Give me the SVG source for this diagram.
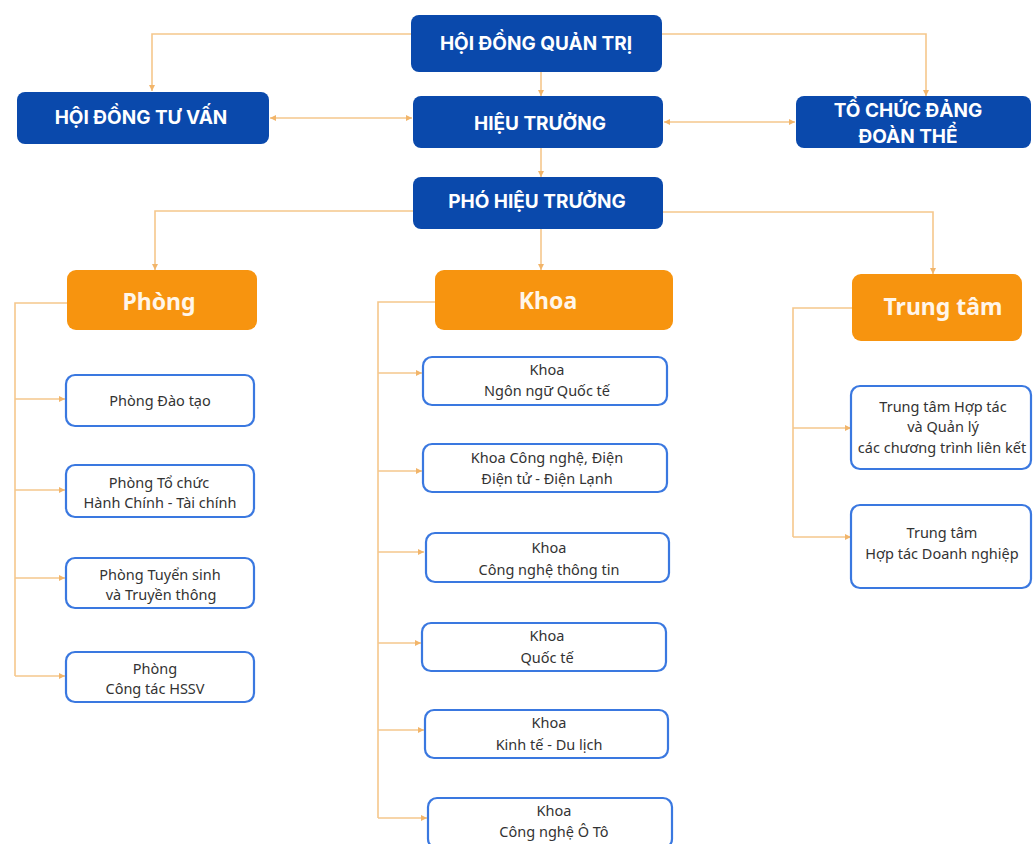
<svg xmlns="http://www.w3.org/2000/svg" width="1033" height="844" viewBox="0 0 1033 844">
<defs>
<marker id="ah" viewBox="0 0 6 6" refX="6" refY="3" markerWidth="6" markerHeight="6" markerUnits="userSpaceOnUse" orient="auto-start-reverse">
<path d="M0,0 L6,3 L0,6 z" fill="#f2b56a"/>
</marker>
<style>
.top rect{fill:#0a49ac}
.top text{fill:#fff;font-family:Inter,"Liberation Sans",sans-serif;font-weight:700;font-size:19px;text-anchor:middle}
.cat rect{fill:#f7940f}
.cat text{fill:#fff6ea;font-family:"Noto Sans","Open Sans",sans-serif;font-weight:700;font-size:23px;text-anchor:middle}
.ch rect{fill:#fff;stroke:#3a78e0;stroke-width:2.2}
.ch text{fill:#333;font-family:"Noto Sans","Open Sans",sans-serif;font-size:14.5px;text-anchor:middle}
.cn path{fill:none;stroke:#f5c78c;stroke-width:1.6}
.cn .a{marker-end:url(#ah)}
.cn .b{marker-start:url(#ah);marker-end:url(#ah)}
</style>
</defs>
<rect width="1033" height="844" fill="#fff"/>

<g class="cn" id="connectors">
<path class="a" d="M411,34 H152 V91"/>
<path class="a" d="M662,34 H926 V96"/>
<path class="a" d="M541,72 V96"/>
<path class="b" d="M270,118 H412"/>
<path class="b" d="M664,122 H795"/>
<path class="a" d="M541,148 V177"/>
<path class="a" d="M413,211 H155 V270"/>
<path class="a" d="M663,212 H933 V274"/>
<path class="a" d="M541,229 V270"/>
<path d="M67,303 H15 V676"/>
<path class="a" d="M15,399 H65"/>
<path class="a" d="M15,490 H65"/>
<path class="a" d="M15,578 H65"/>
<path class="a" d="M15,676 H65"/>
<path d="M435,302 H378 V818"/>
<path class="a" d="M378,373 H422"/>
<path class="a" d="M378,471 H422"/>
<path class="a" d="M378,552 H424"/>
<path class="a" d="M378,643 H421"/>
<path class="a" d="M378,730 H424"/>
<path class="a" d="M378,818 H427"/>
<path d="M852,308 H793 V537"/>
<path class="a" d="M793,428 H851"/>
<path class="a" d="M793,537 H851"/>
</g>

<g class="top" id="hdqt"><rect x="411" y="15" width="251" height="57" rx="8"/><text x="536" y="50">HỘI ĐỒNG QUẢN TRỊ</text></g>
<g class="top" id="hdtv"><rect x="17" y="92" width="252" height="52" rx="8"/><text x="141" y="124">HỘI ĐỒNG TƯ VẤN</text></g>
<g class="top" id="ht"><rect x="413" y="96" width="250" height="52" rx="8"/><text x="540" y="130">HIỆU TRƯỞNG</text></g>
<g class="top" id="tcd"><rect x="796" y="96" width="235" height="52" rx="8"/><text x="908" y="117">TỔ CHỨC ĐẢNG</text><text x="908" y="143">ĐOÀN THỂ</text></g>
<g class="top" id="pht"><rect x="413" y="177" width="250" height="52" rx="8"/><text x="537" y="208">PHÓ HIỆU TRƯỞNG</text></g>

<g class="cat" id="phong"><rect x="67" y="270" width="190" height="60" rx="9"/><text x="159" y="310">Phòng</text></g>
<g class="cat" id="khoa"><rect x="435" y="270" width="238" height="60" rx="9"/><text x="548" y="309">Khoa</text></g>
<g class="cat" id="trungtam"><rect x="852" y="274" width="170" height="67" rx="9"/><text x="943" y="315">Trung tâm</text></g>

<g class="ch" id="p1"><rect x="66" y="375" width="188" height="51" rx="9"/><text x="160" y="406">Phòng Đào tạo</text></g>
<g class="ch" id="p2"><rect x="66" y="465" width="188" height="52" rx="9"/><text x="159" y="488">Phòng Tổ chức</text><text x="160" y="508">Hành Chính - Tài chính</text></g>
<g class="ch" id="p3"><rect x="66" y="558" width="188" height="50" rx="9"/><text x="160" y="580">Phòng Tuyển sinh</text><text x="161" y="600">và Truyền thông</text></g>
<g class="ch" id="p4"><rect x="66" y="652" width="188" height="50" rx="9"/><text x="155" y="674">Phòng</text><text x="155" y="694">Công tác HSSV</text></g>

<g class="ch" id="k1"><rect x="423" y="357" width="244" height="48" rx="9"/><text x="547" y="375">Khoa</text><text x="547" y="396">Ngôn ngữ Quốc tế</text></g>
<g class="ch" id="k2"><rect x="423" y="444" width="244" height="48" rx="9"/><text x="547" y="463">Khoa Công nghệ, Điện</text><text x="547" y="484">Điện tử - Điện Lạnh</text></g>
<g class="ch" id="k3"><rect x="426" y="533" width="243" height="49" rx="9"/><text x="549" y="553">Khoa</text><text x="549" y="575">Công nghệ thông tin</text></g>
<g class="ch" id="k4"><rect x="422" y="623" width="244" height="48" rx="9"/><text x="547" y="641">Khoa</text><text x="547" y="663">Quốc tế</text></g>
<g class="ch" id="k5"><rect x="425" y="710" width="243" height="48" rx="9"/><text x="549" y="728">Khoa</text><text x="549" y="750">Kinh tế - Du lịch</text></g>
<g class="ch" id="k6"><rect x="428" y="798" width="244" height="50" rx="9"/><text x="554" y="816">Khoa</text><text x="554" y="837">Công nghệ Ô Tô</text></g>

<g class="ch" id="t1"><rect x="851" y="386" width="180" height="83" rx="9"/><text x="943" y="412">Trung tâm Hợp tác</text><text x="943" y="432">và Quản lý</text><text x="942" y="453">các chương trình liên kết</text></g>
<g class="ch" id="t2"><rect x="851" y="505" width="180" height="83" rx="9"/><text x="942" y="538">Trung tâm</text><text x="942" y="559">Hợp tác Doanh nghiệp</text></g>
</svg>
